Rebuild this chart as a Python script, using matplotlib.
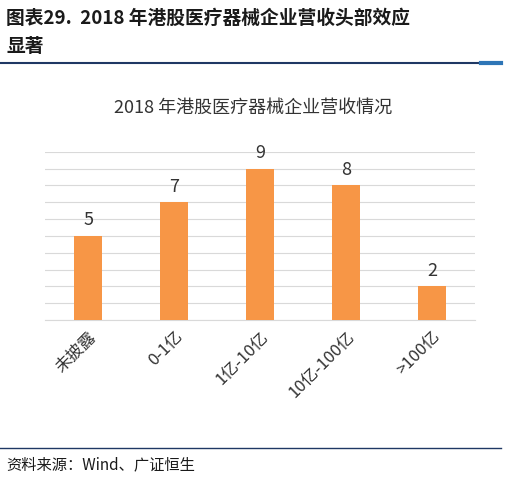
import matplotlib
matplotlib.use("Agg")
import matplotlib.pyplot as plt
from matplotlib.lines import Line2D

plt.rcParams['font.family'] = ['Noto Sans CJK SC', 'DejaVu Sans']

categories = ['未披露', '0-1亿', '1亿-10亿', '10亿-100亿', '>100亿']
values = [5, 7, 9, 8, 2]

fig = plt.figure(figsize=(5.06, 4.79), dpi=100)
ax = fig.add_axes([0.089, 0.332, 0.85, 0.351])
ax.bar(range(len(values)), values, width=0.32, color='#F79646', zorder=3)
for i, v in enumerate(values):
    ax.text(i, v + 0.4, str(v), ha='center', va='bottom', fontsize=13, color='#333333')
ax.set_ylim(0, 10)
ax.set_xlim(-0.5, len(values) - 0.5)
ax.set_yticks(range(0, 11))
ax.yaxis.grid(True, color='#D9D9D9', linewidth=0.8, zorder=0)
ax.tick_params(axis='y', left=False, labelleft=False)
ax.tick_params(axis='x', length=0, pad=6)
ax.set_xticks(range(len(values)))
ax.set_xticklabels(categories, rotation=45, ha='right', rotation_mode='anchor', fontsize=12, color='#333333')
for s in ['top', 'right', 'left']:
    ax.spines[s].set_visible(False)
ax.spines['bottom'].set_color('#D9D9D9')

fig.text(0.5, 1 - 108/479, '2018 年港股医疗器械企业营收情况', ha='center', va='center', fontsize=13, color='#333333')
fig.text(0.012, 1 - 18/479, '图表29.  2018 年港股医疗器械企业营收头部效应', ha='left', va='center', fontsize=13.5, fontweight='bold', color='#1a1a1a')
fig.text(0.012, 1 - 46/479, '显著', ha='left', va='center', fontsize=13.5, fontweight='bold', color='#1a1a1a')
fig.add_artist(Line2D([0.0, 0.95], [1 - 63/479] * 2, color='#1F3864', linewidth=1.5))
fig.add_artist(Line2D([0.95, 0.99], [1 - 63/479] * 2, color='#2E75B6', linewidth=3))
fig.add_artist(Line2D([0.0, 0.99], [1 - 448/479] * 2, color='#1F3864', linewidth=1))
fig.text(0.012, 1 - 465/479, '资料来源：Wind、广证恒生', ha='left', va='center', fontsize=11, color='#1a1a1a')

fig.savefig('out.png', dpi=100)
